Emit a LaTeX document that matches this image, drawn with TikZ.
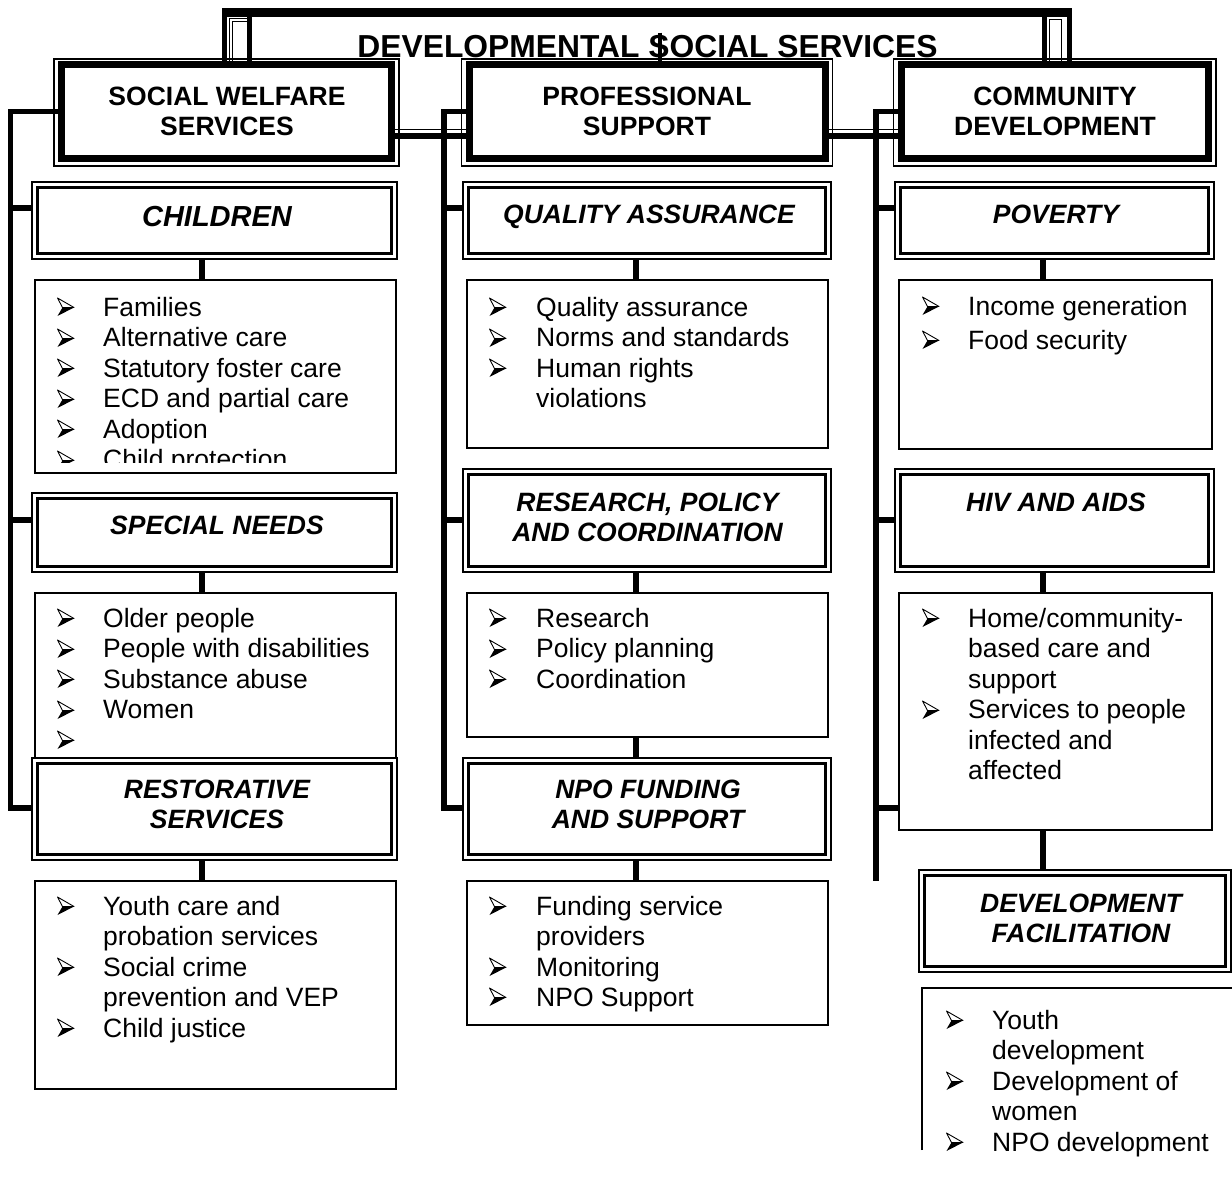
\documentclass[tikz,border=0pt]{standalone}
\usepackage{fontspec}
\setmainfont{Liberation Sans}
\usetikzlibrary{calc}
\pgfdeclarelayer{bg}
\pgfsetlayers{bg,main}
\newcommand\bx[6]{\node[#1, minimum width={#4-#2}, minimum height={#5-#3}] (#6) at ({(#2+#4)/2},{(#3+#5)/2}) {};}
\newcommand\hbx[5]{\bx{hdrbox}{#1}{#2}{#3}{#4}{#5}\draw[line width=1.3pt] ([shift={(-7.5,-6)}]#5.north west) rectangle ([shift={(7.5,7.5)}]#5.south east);}
\newcommand\dbx[5]{\bx{subbox}{#1}{#2}{#3}{#4}{#5}\draw[line width=2.5pt] ([shift={(5.5,5.5)}]#5.north west) rectangle ([shift={(-5.5,-5.5)}]#5.south east);}
\newcommand\ctr[2]{\parbox[t]{#1}{\centering #2}}
\newcommand\lst[2]{\parbox[t]{#1}{#2}}
\begin{document}
\begin{tikzpicture}[x=1pt,y=-1pt,
 hdrbox/.style={draw, line width=7pt, fill=white, inner sep=0pt, outer sep=0pt},
 subbox/.style={draw, line width=2pt, fill=white, inner sep=0pt, outer sep=0pt},
 itembox/.style={draw, line width=1.7pt, fill=white, inner sep=0pt, outer sep=0pt},
 bus/.style={line width=5.5pt, line cap=rect},
 conn/.style={line width=6pt},
 dline/.style={double, double distance=1.6pt, line width=0.9pt},
 hdrtext/.style={font=\fontsize{26.5}{30}\selectfont\bfseries, inner sep=0pt, anchor=base},
 subtext/.style={font=\fontsize{26.5}{30.5}\selectfont\bfseries\itshape, inner sep=0pt, anchor=base},
 listtext/.style={font=\fontsize{26.5}{30.5}\selectfont, inner sep=0pt, anchor=base west},
 bul/.pic={
   \filldraw[fill=white, draw=black, line width=0.9pt, line join=round] (0.5,-18) -- (17,-8.5) -- (5.5,-8.5) -- cycle;
   \fill (5.5,-8.5) -- (17,-8.5) -- (0.5,0) -- cycle;
 }
]
\useasboundingbox (0,0) rectangle (1232,1180);
\clip (0,0) rectangle (1232,1180);

% ---------- header boxes
\hbx{61.5}{65}{391.5}{158.5}{sw}
\hbx{469}{65}{825}{158.5}{ps}
\hbx{901}{65}{1208.5}{158.5}{cd}

% ---------- item boxes
\bx{itembox}{35}{280}{396}{473}{chI}
\bx{itembox}{35}{593}{396}{770}{snI}
\bx{itembox}{35}{881}{396}{1089}{rsI}
\bx{itembox}{467}{280}{828}{448}{qaI}
\bx{itembox}{467}{593}{828}{737}{rpcI}
\bx{itembox}{467}{881}{828}{1025}{npoI}
\bx{itembox}{899}{280}{1212}{449}{povI}
\bx{itembox}{899}{593}{1212}{830}{hivI}
\draw[line width=1.7pt] (922,1150) -- (922,988) -- (1240,988);

% ---------- sub-header boxes
\dbx{32}{182}{397}{259}{ch}
\dbx{32}{493}{397}{572}{sn}
\dbx{32}{758}{397}{860}{rs}
\dbx{463}{182}{831}{259}{qa}
\dbx{463}{469}{831}{572}{rpc}
\dbx{463}{758}{831}{860}{npo}
\dbx{895}{182}{1214}{259}{pov}
\dbx{895}{469}{1214}{572}{hiv}
\dbx{919}{870}{1231}{972}{df}

% ---------- title
\node[font=\fontsize{31.8}{36}\selectfont\bfseries, inner sep=0pt, anchor=base] (title) at (647.5,58) {DEVELOPMENTAL SOCIAL SERVICES};

% ---------- connectors (behind boxes)
\begin{pgfonlayer}{bg}
 % frame round the title
 \fill (222,8) rectangle (1072,17.5);
 \draw[line width=5pt] (224.5,12) -- (sw.north -| 224.5,0);
 \draw[line width=5pt] (1069.5,12) -- (cd.north -| 1069.5,0);
 \draw[line width=5pt] (249.5,16) -- (sw.north -| 249.5,0);
 \draw[line width=5pt] (1044.5,16) -- (cd.north -| 1044.5,0);
 \draw[dline] (sw.north -| 231,0) |- (247,20);
 \draw[line width=1.2pt] (cd.north -| 1049.5,0) |- (1061.5,19.5) -- (cd.north -| 1061.5,0);
 \coordinate (sx) at ([xshift=12.5pt,yshift=3pt]title.north);
 \draw[line width=4pt] (sx) -- (sx |- ps.north);
 % header links
 \draw[line width=6pt] (sw.east |- 0,136.3) -- (ps.west |- 0,136.3);
 \draw[dline] (sw.east |- 0,130.8) -- (ps.west |- 0,130.8);
 \draw[line width=6pt] (ps.east |- 0,136.3) -- (cd.west |- 0,136.3);
 \draw[dline] (ps.east |- 0,130.8) -- (cd.west |- 0,130.8);
 % left bus
 \coordinate (lbT) at (10.5,111.5); \coordinate (lbB) at (10.5,808);
 \draw[bus] (lbT) -- (lbB);
 \draw[bus] (lbT) -- (lbT -| sw.west);
 \draw[bus] (10.5,208) -- (ch.west |- 0,208);
 \draw[bus] (10.5,520) -- (sn.west |- 0,520);
 \draw[bus] (lbB) -- (rs.west |- lbB);
 % middle bus
 \coordinate (mbT) at (444,111.5); \coordinate (mbB) at (444,808);
 \draw[bus] (mbT) -- (mbB);
 \draw[bus] (mbT) -- (mbT -| ps.west);
 \draw[bus] (444,208) -- (qa.west |- 0,208);
 \draw[bus] (444,520) -- (rpc.west |- 0,520);
 \draw[bus] (mbB) -- (npo.west |- mbB);
 % right bus
 \coordinate (rbT) at (876,111.5); \coordinate (rbB) at (876,878);
 \draw[bus] (rbT) -- (rbB);
 \draw[bus] (rbT) -- (rbT -| cd.west);
 \draw[bus] (876,208) -- (pov.west |- 0,208);
 \draw[bus] (876,520) -- (hiv.west |- 0,520);
 \draw[bus] (876,808) -- (hivI.west |- 0,808);
 % vertical links
 \draw[conn] (ch.south -| 202,0) -- (chI.north -| 202,0);
 \draw[conn] (sn.south -| 202,0) -- (snI.north -| 202,0);
 \draw[conn] (rs.south -| 202,0) -- (rsI.north -| 202,0);
 \draw[conn] (qa.south -| 636,0) -- (qaI.north -| 636,0);
 \draw[conn] (rpc.south -| 636,0) -- (rpcI.north -| 636,0);
 \draw[conn] (rpcI.south -| 636,0) -- (npo.north -| 636,0);
 \draw[conn] (npo.south -| 636,0) -- (npoI.north -| 636,0);
 \draw[conn] (pov.south -| 1043,0) -- (povI.north -| 1043,0);
 \draw[conn] (hiv.south -| 1043,0) -- (hivI.north -| 1043,0);
 \draw[conn] (hivI.south -| 1043,0) -- (df.north -| 1043,0);
\end{pgfonlayer}

% ---------- header texts
\node[hdrtext] (swT) at (227,106) {\ctr{330pt}{SOCIAL WELFARE\\SERVICES}};
\node[hdrtext] (psT) at (647,106) {\ctr{340pt}{PROFESSIONAL\\SUPPORT}};
\node[hdrtext] (cdT) at (1055,106) {\ctr{300pt}{COMMUNITY\\DEVELOPMENT}};

\node[subtext, font=\fontsize{29}{33}\selectfont\bfseries\itshape] (chT) at (217,226) {CHILDREN};
\node[subtext] (snT) at (217,534) {SPECIAL NEEDS};
\node[subtext] (rsT) at (217,798) {\ctr{330pt}{RESTORATIVE\\SERVICES}};
\node[subtext] (qaT) at (649,223) {QUALITY ASSURANCE};
\node[subtext] (rpcT) at (647.5,511) {\ctr{340pt}{RESEARCH, POLICY\\AND COORDINATION}};
\node[subtext] (npoT) at (648,798) {\ctr{340pt}{NPO FUNDING\\AND SUPPORT}};
\node[subtext] (povT) at (1056,223) {POVERTY};
\node[subtext] (hivT) at (1056,511) {HIV AND AIDS};
\node[subtext] (dfT) at (1081,912) {\ctr{300pt}{DEVELOPMENT\\FACILITATION}};

% ---------- lists
\begin{scope}
 \clip (35,280) rectangle (396,462);
 \foreach \yy in {316,347,377,408,438,469} \pic at (57,\yy) {bul};
 \node[listtext] (chL) at (103,316) {\lst{290pt}{Families\\Alternative care\\Statutory foster care\\ECD and partial care\\Adoption\\Child protection}};
\end{scope}
\foreach \yy in {627,658,688,719,749} \pic at (57,\yy) {bul};
\node[listtext] (snL) at (103,627) {\lst{290pt}{Older people\\People with disabilities\\Substance abuse\\Women}};
\foreach \yy in {915,976,1037} \pic at (57,\yy) {bul};
\node[listtext] (rsL) at (103,915) {\lst{290pt}{Youth care and\\probation services\\Social crime\\prevention and VEP\\Child justice}};

\foreach \yy in {316,347,377} \pic at (489,\yy) {bul};
\node[listtext] (qaL) at (536,316) {\lst{290pt}{Quality assurance\\Norms and standards\\Human rights\\violations}};
\foreach \yy in {627,658,688} \pic at (489,\yy) {bul};
\node[listtext] (rpcL) at (536,627) {\lst{290pt}{Research\\Policy planning\\Coordination}};
\foreach \yy in {915,976,1006} \pic at (489,\yy) {bul};
\node[listtext] (npoL) at (536,915) {\lst{290pt}{Funding service\\providers\\Monitoring\\NPO Support}};

\foreach \yy in {315,349} \pic at (922,\yy) {bul};
\node[listtext, font=\fontsize{26.5}{34}\selectfont] (povL) at (968,315) {\lst{240pt}{Income generation\\Food security}};
\foreach \yy in {627,719} \pic at (922,\yy) {bul};
\node[listtext] (hivL) at (968,627) {\lst{240pt}{Home/community-\\based care and\\support\\Services to people\\infected and\\affected}};
\foreach \yy in {1029,1090,1151} \pic at (946,\yy) {bul};
\node[listtext] (dfL) at (992,1029) {\lst{230pt}{Youth\\development\\Development of\\women\\NPO development}};
\end{tikzpicture}
\end{document}
